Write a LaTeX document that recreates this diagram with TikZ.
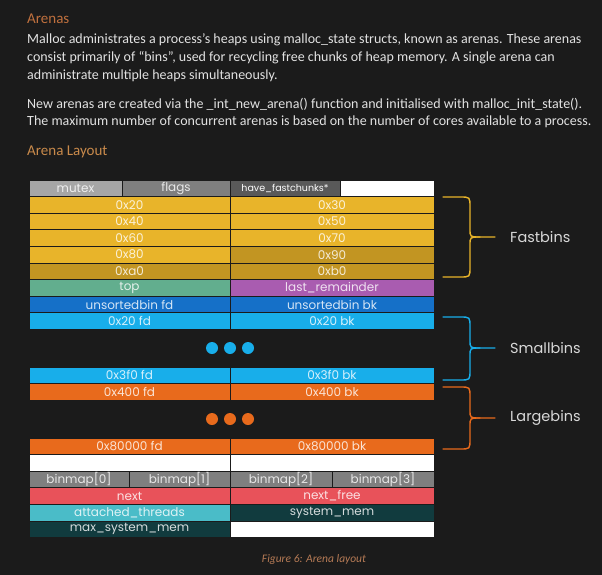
\documentclass[tikz,border=0pt]{standalone}
\usepackage{fontspec}
\setmainfont{Carlito}
\newfontfamily\cellfont{Poppins}
\definecolor{bg}{HTML}{1B1B1B}
\definecolor{head}{HTML}{C0703E}
\definecolor{head2}{HTML}{C98A4B}
\definecolor{body}{HTML}{E2E2E2}
\definecolor{gA}{HTML}{A6A6A6}
\definecolor{gB}{HTML}{7F7F7F}
\definecolor{gC}{HTML}{595959}
\definecolor{yA}{HTML}{E8B42A}
\definecolor{yB}{HTML}{C29522}
\definecolor{teal}{HTML}{62AE8E}
\definecolor{purp}{HTML}{A95CB0}
\definecolor{blu}{HTML}{1570C8}
\definecolor{lblu}{HTML}{18AEEA}
\definecolor{ora}{HTML}{E86A1C}
\definecolor{red}{HTML}{E8525A}
\definecolor{cya}{HTML}{4ABCC8}
\definecolor{dteal}{HTML}{113B3E}
\definecolor{lab}{HTML}{D8D8D8}
\definecolor{cap}{HTML}{B57A55}
\tikzset{
  cell/.style={draw=bg, line width=0.8pt, inner sep=0pt, outer sep=0pt, anchor=north west,
    minimum height=16.6pt, font=\cellfont\fontsize{12}{13}\selectfont, text=white, text opacity=0.82},
  bodytxt/.style={anchor=west, inner sep=0pt, text=body, font=\fontsize{14}{16}\selectfont},
  dot/.style={circle, minimum size=12pt, inner sep=0pt},
  brace/.style={line width=1.4pt, line cap=round},
  blabel/.style={anchor=west, inner sep=0pt, text=lab, font=\cellfont\fontsize{14.5}{16}\selectfont}
}
\begin{document}
\begin{tikzpicture}[x=1pt,y=-1pt]
\fill[bg] (0,0) rectangle (602,575);
\useasboundingbox (0,0) rectangle (602,575);
% heading and body text
\node[anchor=west, inner sep=0pt, text=head, font=\fontsize{15}{17}\selectfont] (h1) at (27,19) {Arenas};
\node[bodytxt] (l1) at (27,40) {Malloc administrates a process’s heaps using malloc\_state structs, known as arenas. These arenas};
\node[bodytxt] (l2) at (27,58) {consist primarily of “bins”, used for recycling free chunks of heap memory. A single arena can};
\node[bodytxt] (l3) at (27,76) {administrate multiple heaps simultaneously.};
\node[bodytxt] (l4) at (27,104) {New arenas are created via the \_int\_new\_arena() function and initialised with malloc\_init\_state().};
\node[bodytxt] (l5) at (27,122) {The maximum number of concurrent arenas is based on the number of cores available to a process.};
\node[anchor=west, inner sep=0pt, text=head2, font=\fontsize{15}{17}\selectfont] (h2) at (27,152) {Arena Layout};
% row 0
\node[cell, fill=gA, minimum width=93pt] (mutex) at (29,180) {mutex};
\node[cell, fill=gB, minimum width=108pt] (flags) at (122,180) {flags};
\node[cell, fill=gC, minimum width=110pt, font=\cellfont\fontsize{9.5}{11}\selectfont, text opacity=1] (hfc) at (230,180) {have\_fastchunks*};
\node[cell, fill=white, minimum width=94pt] (w0) at (340,180) {};
% fastbins
\node[cell, fill=yA, minimum width=201pt] (f20) at (29,196.6) {0x20};
\node[cell, fill=yA, minimum width=204pt] (f30) at (230,196.6) {0x30};
\node[cell, fill=yA, minimum width=201pt] (f40) at (29,213.2) {0x40};
\node[cell, fill=yA, minimum width=204pt] (f50) at (230,213.2) {0x50};
\node[cell, fill=yA, minimum width=201pt] (f60) at (29,229.8) {0x60};
\node[cell, fill=yA, minimum width=204pt] (f70) at (230,229.8) {0x70};
\node[cell, fill=yA, minimum width=201pt] (f80) at (29,246.4) {0x80};
\node[cell, fill=yB, minimum width=204pt] (f90) at (230,246.4) {0x90};
\node[cell, fill=yB, minimum width=201pt] (fa0) at (29,263) {0xa0};
\node[cell, fill=yB, minimum width=204pt] (fb0) at (230,263) {0xb0};
% top / last remainder
\node[cell, fill=teal, minimum width=201pt] (top) at (29,279.6) {top};
\node[cell, fill=purp, minimum width=204pt] (lr) at (230,279.6) {last\_remainder};
\node[cell, fill=blu, minimum width=201pt] (ufd) at (29,296.2) {unsortedbin fd};
\node[cell, fill=blu, minimum width=204pt] (ubk) at (230,296.2) {unsortedbin bk};
\node[cell, fill=lblu, minimum width=201pt] (s20fd) at (29,312.8) {0x20 fd};
\node[cell, fill=lblu, minimum width=204pt] (s20bk) at (230,312.8) {0x20 bk};
% blue dots
\node[dot, fill=lblu] (bd1) at (212,348) {};
\node[dot, fill=lblu] (bd2) at (230,348) {};
\node[dot, fill=lblu] (bd3) at (248,348) {};
\node[cell, fill=lblu, minimum width=201pt] (s3fd) at (29,367) {0x3f0 fd};
\node[cell, fill=lblu, minimum width=204pt] (s3bk) at (230,367) {0x3f0 bk};
\node[cell, fill=ora, minimum width=201pt] (l4fd) at (29,383.6) {0x400 fd};
\node[cell, fill=ora, minimum width=204pt] (l4bk) at (230,383.6) {0x400 bk};
% orange dots
\node[dot, fill=ora] (od1) at (212,419) {};
\node[dot, fill=ora] (od2) at (230,419) {};
\node[dot, fill=ora] (od3) at (248,419) {};
\node[cell, fill=ora, minimum width=201pt] (l8fd) at (29,438) {0x80000 fd};
\node[cell, fill=ora, minimum width=204pt] (l8bk) at (230,438) {0x80000 bk};
\node[cell, fill=white, minimum width=201pt] (w1) at (29,454.6) {};
\node[cell, fill=white, minimum width=204pt] (w2) at (230,454.6) {};
\node[cell, fill=gB, minimum width=100pt] (bm0) at (29,471.2) {binmap[0]};
\node[cell, fill=gB, minimum width=101pt] (bm1) at (129,471.2) {binmap[1]};
\node[cell, fill=gB, minimum width=102pt] (bm2) at (230,471.2) {binmap[2]};
\node[cell, fill=gB, minimum width=102pt] (bm3) at (332,471.2) {binmap[3]};
\node[cell, fill=red, minimum width=201pt] (next) at (29,487.8) {next};
\node[cell, fill=red, minimum width=204pt] (nfree) at (230,487.8) {next\_free};
\node[cell, fill=cya, minimum width=201pt] (att) at (29,504.4) {attached\_threads};
\node[cell, fill=dteal, minimum width=204pt] (sysm) at (230,504.4) {system\_mem};
\node[cell, fill=dteal, minimum width=201pt] (msys) at (29,521) {max\_system\_mem};
\node[cell, fill=white, minimum width=204pt] (w3) at (230,521) {};
% braces
\draw[brace, draw=yA] (443,197) -- (460,197) .. controls (470,197) .. (470,207) -- (470,229) .. controls (470,237) .. (480,237) -- (495,237);
\draw[brace, draw=yA] (443,277) -- (460,277) .. controls (470,277) .. (470,267) -- (470,245) .. controls (470,237) .. (480,237);
\draw[brace, draw=lblu] (443,317) -- (460,317) .. controls (470,317) .. (470,327) -- (470,340) .. controls (470,348) .. (480,348) -- (495,348);
\draw[brace, draw=lblu] (443,380) -- (460,380) .. controls (470,380) .. (470,370) -- (470,356) .. controls (470,348) .. (480,348);
\draw[brace, draw=ora] (443,387) -- (460,387) .. controls (470,387) .. (470,397) -- (470,410) .. controls (470,418) .. (480,418) -- (495,418);
\draw[brace, draw=ora] (443,449) -- (460,449) .. controls (470,449) .. (470,439) -- (470,426) .. controls (470,418) .. (480,418);
\node[blabel] (fast) at (510,237) {Fastbins};
\node[blabel] (small) at (510,348) {Smallbins};
\node[blabel] (large) at (510,418) {Largebins};
% caption
\node[inner sep=0pt, text=cap, font=\itshape\fontsize{11.5}{13}\selectfont] (caption) at (314,559) {Figure 6: Arena layout};
\end{tikzpicture}
\end{document}
